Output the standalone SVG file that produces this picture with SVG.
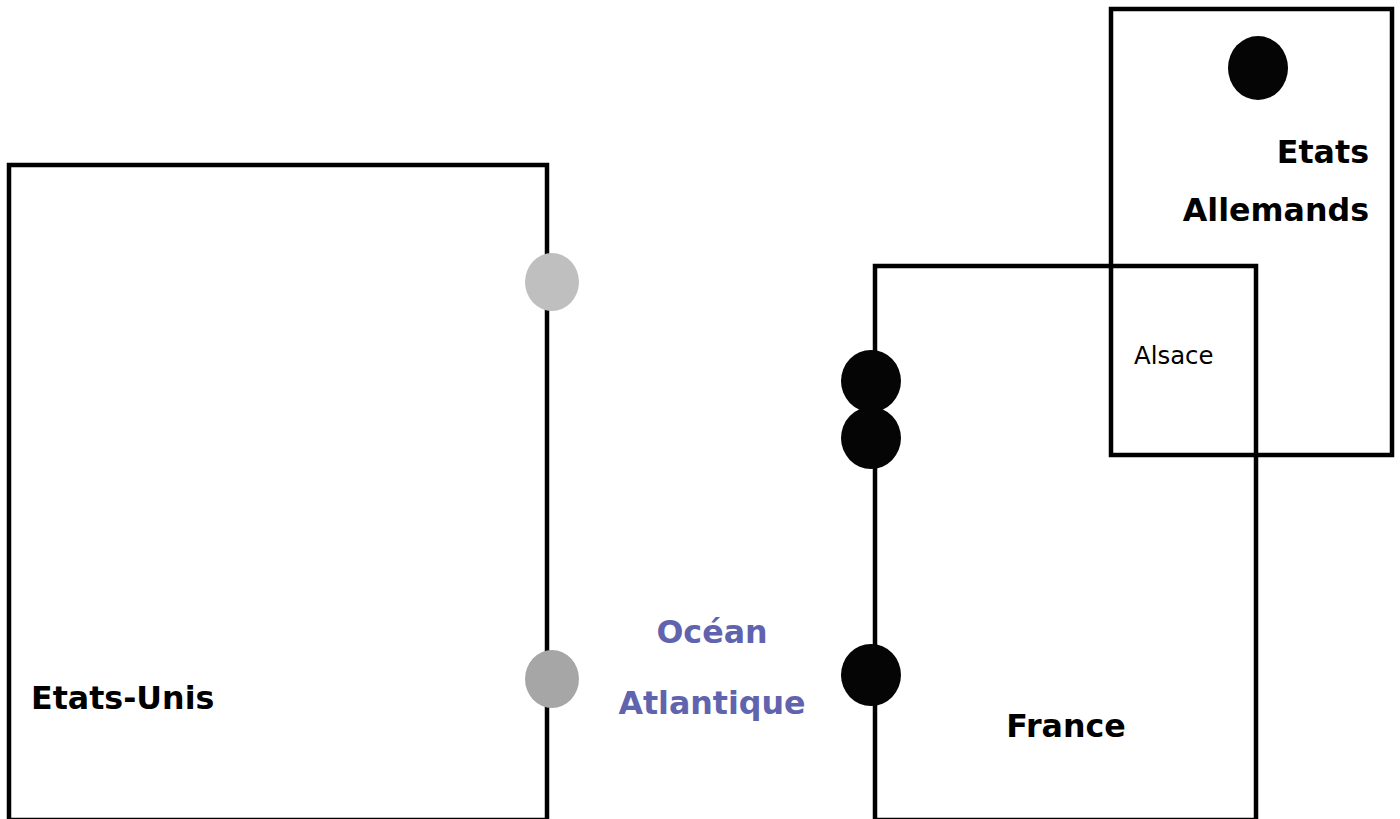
<svg xmlns="http://www.w3.org/2000/svg" width="1400" height="819" viewBox="0 0 1400 819">
<style>
.box{fill:none;stroke:#000;stroke-width:4.5}
.lbl{font-family:"DejaVu Sans",Verdana,sans-serif;font-weight:bold;font-size:31.7px;fill:#000}
.sea{font-family:"DejaVu Sans",Verdana,sans-serif;font-weight:bold;font-size:31.7px;fill:#6063ad}
.small{font-family:"DejaVu Sans",Verdana,sans-serif;font-size:24.4px;fill:#000}
.dot{fill:#050505}
</style>
<rect width="1400" height="819" fill="#fff"/>
<g id="etats-unis">
<rect class="box" x="9" y="165" width="538" height="655"/>
<text class="lbl" x="31" y="709">Etats-Unis</text>
</g>
<g id="france">
<rect class="box" x="875" y="266" width="381" height="554"/>
<text class="lbl" x="1066" y="737" text-anchor="middle">France</text>
</g>
<g id="etats-allemands">
<rect class="box" x="1111" y="9" width="281" height="446"/>
<text class="lbl" x="1369" y="163" text-anchor="end">Etats</text>
<text class="lbl" x="1369" y="221" text-anchor="end">Allemands</text>
</g>
<g id="alsace">
<text class="small" x="1134" y="364">Alsace</text>
</g>
<g id="ocean">
<text class="sea" x="712" y="643" text-anchor="middle">Océan</text>
<text class="sea" x="712" y="714" text-anchor="middle">Atlantique</text>
</g>
<g id="connectors">
<ellipse cx="552" cy="282" rx="27" ry="29" fill="#bfbfbf"/>
<ellipse cx="552" cy="679" rx="27" ry="29" fill="#a6a6a6"/>
<ellipse class="dot" cx="871" cy="381" rx="30" ry="31"/>
<ellipse class="dot" cx="871" cy="438" rx="30" ry="31"/>
<ellipse class="dot" cx="871" cy="675" rx="30" ry="31"/>
<ellipse class="dot" cx="1258" cy="68" rx="30" ry="32"/>
</g>
</svg>
